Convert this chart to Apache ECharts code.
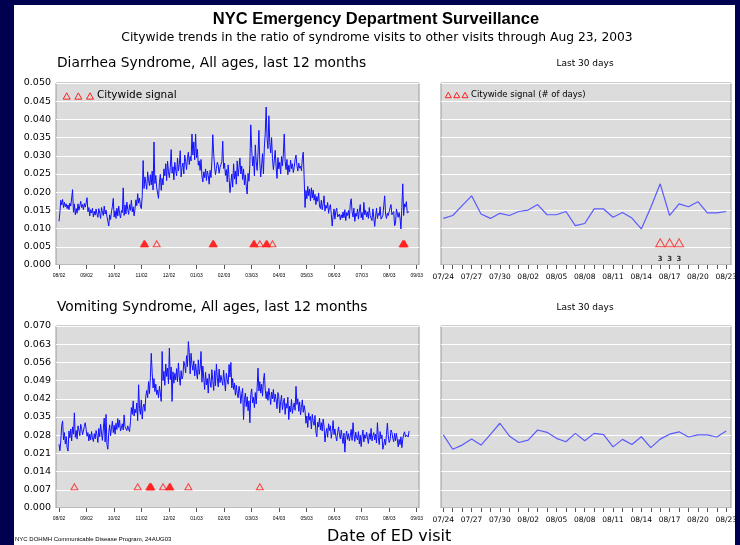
<!DOCTYPE html>
<html>
<head>
<meta charset="utf-8">
<script src="https://cdn.jsdelivr.net/npm/echarts@6/dist/echarts.min.js"></script>
<style>
body { margin: 0; background: #000050; }
#page { position: absolute; left: 14px; top: 5px; width: 721px; height: 540px; background: #fff; }
#chart { position: absolute; left: 0; top: 0; width: 740px; height: 545px; }
</style>
</head>
<body>
<div id="page"></div>
<div id="chart"></div>
<script>
// month tick labels of the 12 month panels (one tick every 365/12 days from 08/01/2002)
var monthLabels = ['08/02', '09/02', '10/02', '11/02', '12/02', '01/03', '02/03',
  '03/03', '04/03', '05/03', '06/03', '07/03', '08/03', '09/03']

// last 30 days categories
var recentDays = ['07/24', '07/25', '07/26', '07/27', '07/28', '07/29', '07/30', '07/31',
  '08/01', '08/02', '08/03', '08/04', '08/05', '08/06', '08/07', '08/08', '08/09', '08/10',
  '08/11', '08/12', '08/13', '08/14', '08/15', '08/16', '08/17', '08/18', '08/19', '08/20',
  '08/21', '08/22', '08/23']

// diarrhea ratio, days 0..356 (08/01/2002 .. 07/23/2003)
var diarrheaEarly = [
  .0120, .0145, .0178, .0165, .0180, .0158, .0172, .0160, .0168, .0155,
  .0165, .0152, .0170, .0162, .0184, .0207, .0145, .0168, .0138, .0155,
  .0142, .0168, .0150, .0162, .0175, .0158, .0166, .0152, .0169, .0159,
  .0170, .0185, .0146, .0158, .0135, .0152, .0143, .0156, .0132, .0148,
  .0137, .0154, .0140, .0131, .0155, .0142, .0128, .0158, .0145, .0136,
  .0162, .0140, .0151, .0134, .0120, .0107, .0138, .0125, .0146, .0160,
  .0183, .0132, .0149, .0128, .0156, .0135, .0162, .0141, .0129, .0150,
  .0144, .0212, .0136, .0165, .0140, .0173, .0152, .0139, .0166, .0150,
  .0178, .0146, .0160, .0135, .0154, .0179, .0163, .0196, .0170, .0184,
  .0162, .0155, .0190, .0287, .0210, .0242, .0225, .0208, .0256, .0234,
  .0218, .0248, .0220, .0258, .0206, .0338, .0224, .0246, .0212, .0198,
  .0183, .0226, .0249, .0205, .0238, .0220, .0264, .0245, .0278, .0232,
  .0285, .0256, .0240, .0268, .0317, .0252, .0270, .0234, .0282, .0260,
  .0245, .0294, .0258, .0276, .0314, .0242, .0268, .0280, .0250, .0302,
  .0284, .0262, .0295, .0310, .0276, .0298, .0286, .0360, .0302, .0338,
  .0289, .0360, .0295, .0318, .0274, .0286, .0260, .0290, .0245, .0228,
  .0256, .0240, .0264, .0232, .0258, .0246, .0222, .0260, .0240, .0285,
  .0358, .0305, .0270, .0248, .0265, .0282, .0274, .0252, .0268, .0276,
  .0284, .0340, .0265, .0280, .0246, .0262, .0228, .0275, .0240, .0199,
  .0225, .0250, .0214, .0278, .0236, .0258, .0222, .0286, .0244, .0268,
  .0294, .0250, .0272, .0235, .0264, .0220, .0248, .0216, .0195, .0252,
  .0230, .0276, .0385, .0320, .0272, .0298, .0245, .0330, .0284, .0260,
  .0305, .0370, .0280, .0242, .0275, .0306, .0250, .0324, .0362, .0434,
  .0348, .0320, .0410, .0336, .0308, .0350, .0292, .0262, .0288, .0315,
  .0270, .0238, .0295, .0264, .0282, .0250, .0298, .0272, .0305, .0360,
  .0285, .0262, .0290, .0248, .0274, .0256, .0288, .0265, .0278, .0254,
  .0268, .0290, .0302, .0274, .0258, .0280, .0266, .0272, .0259, .0292,
  .0310, .0240, .0158, .0205, .0182, .0216, .0190, .0208, .0176, .0212,
  .0184, .0206, .0178, .0194, .0166, .0188, .0175, .0198, .0162, .0155,
  .0178, .0152, .0168, .0190, .0148, .0164, .0156, .0172, .0142, .0158,
  .0166, .0140, .0107, .0135, .0154, .0126, .0148, .0156, .0132, .0128,
  .0140, .0124, .0138, .0129, .0146, .0130, .0152, .0122, .0144, .0136,
  .0150, .0128, .0168, .0182, .0146, .0132, .0156, .0120, .0142, .0134,
  .0154, .0126, .0148, .0166, .0130, .0144, .0124, .0172, .0138, .0150,
  .0132, .0146, .0128, .0158, .0136, .0140, .0122, .0154, .0130, .0106,
  .0134, .0156, .0128, .0142, .0136, .0160, .0126
]
// diarrhea ratio, last 30 days (07/24 .. 08/23)
var diarrheaRecent = [.0128, .0136, .0163, .0190, .0140, .0128, .0142, .0136, .0147, .0151,
  .0166, .0138, .0138, .0147, .0108, .0114, .0154, .0154, .0131, .0144, .0129, .0099,
  .0158, .0223, .0136, .0168, .0160, .0174, .0143, .0143, .0147]

var vomitingEarly = [
  .0245, .0220, .0258, .0318, .0335, .0262, .0290, .0246, .0275, .0232,
  .0219, .0296, .0270, .0304, .0258, .0312, .0284, .0366, .0272, .0298,
  .0265, .0316, .0300, .0278, .0322, .0306, .0282, .0296, .0314, .0328,
  .0302, .0276, .0290, .0258, .0284, .0262, .0294, .0270, .0256, .0286,
  .0266, .0298, .0280, .0252, .0306, .0274, .0322, .0288, .0260, .0304,
  .0346, .0254, .0360, .0244, .0226, .0290, .0320, .0278, .0306, .0334,
  .0290, .0318, .0284, .0326, .0302, .0344, .0310, .0338, .0296, .0308,
  .0324, .0300, .0358, .0312, .0306, .0298, .0316, .0302, .0294, .0332,
  .0386, .0360, .0412, .0354, .0380, .0366, .0404, .0336, .0474, .0382,
  .0360, .0416, .0342, .0388, .0400, .0372, .0430, .0452, .0424, .0486,
  .0440, .0502, .0595, .0520, .0462, .0498, .0448, .0476, .0436, .0454,
  .0424, .0468, .0442, .0410, .0602, .0490, .0526, .0472, .0554, .0506,
  .0538, .0478, .0615, .0494, .0542, .0410, .0524, .0480, .0518, .0492,
  .0536, .0486, .0558, .0504, .0472, .0528, .0496, .0510, .0564, .0548,
  .0520, .0586, .0544, .0640, .0598, .0516, .0595, .0552, .0530, .0566,
  .0508, .0554, .0522, .0496, .0570, .0514, .0538, .0602, .0484, .0546,
  .0500, .0456, .0522, .0474, .0498, .0442, .0516, .0486, .0464, .0532,
  .0490, .0452, .0528, .0470, .0554, .0502, .0466, .0534, .0482, .0510,
  .0506, .0472, .0530, .0488, .0450, .0518, .0494, .0476, .0552, .0504,
  .0560, .0462, .0498, .0456, .0480, .0434, .0472, .0440, .0424, .0468,
  .0446, .0402, .0438, .0460, .0340, .0416, .0442, .0390, .0428, .0374,
  .0412, .0328, .0436, .0458, .0404, .0426, .0386, .0444, .0400, .0462,
  .0538, .0450, .0486, .0442, .0476, .0430, .0490, .0518, .0454, .0420,
  .0448, .0414, .0460, .0432, .0398, .0446, .0420, .0456, .0408, .0438,
  .0416, .0382, .0444, .0428, .0366, .0410, .0434, .0378, .0406, .0422,
  .0360, .0402, .0384, .0426, .0340, .0392, .0370, .0418, .0364, .0388,
  .0404, .0376, .0468, .0398, .0420, .0372, .0408, .0358, .0386, .0416,
  .0368, .0394, .0372, .0326, .0354, .0310, .0366, .0338, .0352, .0304,
  .0360, .0332, .0318, .0356, .0292, .0274, .0330, .0312, .0346, .0300,
  .0328, .0296, .0342, .0314, .0254, .0288, .0306, .0272, .0324, .0298,
  .0316, .0268, .0294, .0336, .0282, .0304, .0276, .0258, .0290, .0312,
  .0284, .0266, .0300, .0272, .0248, .0288, .0215, .0274, .0296, .0264,
  .0286, .0258, .0278, .0302, .0260, .0328, .0284, .0256, .0292, .0270,
  .0262, .0294, .0246, .0280, .0236, .0276, .0300, .0254, .0282, .0268,
  .0292, .0270, .0248, .0286, .0264, .0306, .0258, .0278, .0290, .0262,
  .0284, .0250, .0328, .0272, .0244, .0294, .0266
]
var vomitingRecent = [.0281, .0226, .0242, .0265, .0242, .0283, .0326, .0277, .0252, .0261,
  .0300, .0291, .0268, .0255, .0287, .0259, .0287, .0282, .0235, .0264, .0244, .0274,
  .0232, .0265, .0284, .0293, .0273, .0281, .0281, .0273, .0296]

// days (from 08/01/2002) with a citywide signal
var diarrheaSignalDays = [94, 95, 108, 170, 171, 215, 216, 222, 229, 230, 236, 380, 381, 382]
var vomitingSignalDays = [17, 87, 100, 101, 102, 115, 122, 123, 143, 222]
// last 30 days signals and their # of days
var diarrheaRecentSignals = ['08/16', '08/17', '08/18']
var diarrheaRecentCounts = ['3', '3', '3']

var MONTH = 365 / 12
var diarrheaYear = diarrheaEarly.concat(diarrheaRecent)
var vomitingYear = vomitingEarly.concat(vomitingRecent)

var chart = echarts.init(document.getElementById('chart'), null, {renderer: 'canvas'})

var FONT = 'DejaVu Sans'
var BG = '#dcdcdc'
var LINE = '#1010ff'
var LINE_30 = '#5a5aff'
var RED = '#ff2020'

function yearPoints(arr) {
  return arr.map(function (v, i) { return [i, v] })
}
function signalPoints(days, level) {
  return days.map(function (d) {
    var filled = days.indexOf(d - 1) >= 0 || days.indexOf(d + 1) >= 0
    return {value: [d, level], itemStyle: {color: filled ? RED : 'rgba(0,0,0,0)'}}
  })
}

// panel geometry
var TOP1 = 83, TOP2 = 326, H = 182
var yMaxTop = 0.05, yStepTop = 0.005
var yMaxBot = 0.07, yStepBot = 0.007

function frameGrid(left, top, width) {
  return {left: left, top: top, width: width, height: H, show: true,
    backgroundColor: BG, borderColor: '#9a9a9a', borderWidth: 1}
}
function dataGrid(left, top, width) {
  return {left: left, top: top, width: width, height: H, show: false}
}

var grids = [
  frameGrid(56, TOP1, 363), dataGrid(59, TOP1, 357.7),
  frameGrid(441, TOP1, 290), dataGrid(443.3, TOP1, 285.4),
  frameGrid(56, TOP2, 363), dataGrid(59, TOP2, 357.7),
  frameGrid(441, TOP2, 290), dataGrid(443.3, TOP2, 285.4)
]

var hiddenX = {type: 'value', show: false, min: 0, max: 1}
function yearX(gi) {
  return {
    type: 'value', gridIndex: gi, min: 0, max: MONTH * 13, interval: MONTH,
    axisLine: {show: false},
    axisTick: {show: true, length: 4, lineStyle: {color: '#555'}},
    splitLine: {show: false},
    axisLabel: {
      fontSize: 5, fontFamily: 'Liberation Sans', color: '#000', margin: 8,
      formatter: function (v) { return monthLabels[Math.round(v / MONTH)] || '' }
    }
  }
}
function recentX(gi) {
  return {
    type: 'category', gridIndex: gi, data: recentDays, boundaryGap: false,
    axisLine: {show: false},
    axisTick: {show: true, length: 4, interval: 0, lineStyle: {color: '#555'}},
    axisLabel: {interval: 2, fontSize: 7.5, fontFamily: FONT, color: '#000', margin: 8}
  }
}
function frameY(gi, max, step, labels) {
  return {
    type: 'value', gridIndex: gi, min: 0, max: max, interval: step,
    axisLine: {show: false}, axisTick: {show: false},
    splitLine: {show: true, lineStyle: {color: '#fff', width: 1}},
    axisLabel: {
      show: labels, fontSize: 9.5, fontFamily: FONT, color: '#000', margin: 5,
      formatter: function (v) { return v.toFixed(3) }
    }
  }
}
function dataY(gi, max) {
  return {type: 'value', gridIndex: gi, min: 0, max: max, show: false, splitLine: {show: false}}
}

var xAxes = [
  Object.assign({gridIndex: 0}, hiddenX), yearX(1),
  Object.assign({gridIndex: 2}, hiddenX), recentX(3),
  Object.assign({gridIndex: 4}, hiddenX), yearX(5),
  Object.assign({gridIndex: 6}, hiddenX), recentX(7)
]
var yAxes = [
  frameY(0, yMaxTop, yStepTop, true), dataY(1, yMaxTop),
  frameY(2, yMaxTop, yStepTop, false), dataY(3, yMaxTop),
  frameY(4, yMaxBot, yStepBot, true), dataY(5, yMaxBot),
  frameY(6, yMaxBot, yStepBot, false), dataY(7, yMaxBot)
]

function tri(x, y, s) {
  return {type: 'polygon', shape: {points: [[x - s / 2, y + s * 0.45], [x + s / 2, y + s * 0.45], [x, y - s * 0.45]]},
    style: {fill: 'none', stroke: RED, lineWidth: 1}}
}

var option = {
  animation: false,
  title: [
    {text: 'NYC Emergency Department Surveillance', left: 371, top: 6, textAlign: 'center',
      textStyle: {fontFamily: 'Liberation Sans Narrow, Liberation Sans', fontWeight: 'bold', fontSize: 16.5, color: '#000'}},
    {text: 'Citywide trends in the ratio of syndrome visits to other visits through Aug 23, 2003',
      left: 372, top: 27, textAlign: 'center',
      textStyle: {fontFamily: FONT, fontWeight: 'normal', fontSize: 12.3, color: '#000'}},
    {text: 'Diarrhea Syndrome, All ages, last 12 months', left: 52, top: 51,
      textStyle: {fontFamily: FONT, fontWeight: 'normal', fontSize: 13.8, color: '#000'}},
    {text: 'Last 30 days', left: 580, top: 54, textAlign: 'center',
      textStyle: {fontFamily: FONT, fontWeight: 'normal', fontSize: 9, color: '#000'}},
    {text: 'Vomiting Syndrome, All ages, last 12 months', left: 52, top: 295,
      textStyle: {fontFamily: FONT, fontWeight: 'normal', fontSize: 13.8, color: '#000'}},
    {text: 'Last 30 days', left: 580, top: 298, textAlign: 'center',
      textStyle: {fontFamily: FONT, fontWeight: 'normal', fontSize: 9, color: '#000'}},
    {text: 'Date of ED visit', left: 322, top: 524,
      textStyle: {fontFamily: FONT, fontWeight: 'normal', fontSize: 16, color: '#000'}},
    {text: 'NYC DOHMH Communicable Disease Program, 24AUG03', left: 10, top: 531,
      textStyle: {fontFamily: 'Liberation Sans', fontWeight: 'normal', fontSize: 6, color: '#000'}}
  ],
  graphic: [
    tri(66.7, 96, 7), tri(78.3, 96, 7), tri(90, 96, 7),
    {type: 'text', left: 97, top: 90, style: {text: 'Citywide signal', font: '10.5px DejaVu Sans', fill: '#000'}},
    tri(448.3, 95, 6), tri(456.7, 95, 6), tri(465, 95, 6),
    {type: 'text', left: 471, top: 90, style: {text: 'Citywide signal (# of days)', font: '8.5px DejaVu Sans', fill: '#000'}}
  ],
  grid: grids,
  xAxis: xAxes,
  yAxis: yAxes,
  series: [
    {type: 'line', xAxisIndex: 1, yAxisIndex: 1, data: yearPoints(diarrheaYear), showSymbol: false,
      lineStyle: {color: LINE, width: 1}},
    {type: 'scatter', xAxisIndex: 1, yAxisIndex: 1, data: signalPoints(diarrheaSignalDays, 0.005),
      symbol: 'triangle', symbolSize: [7, 6], symbolOffset: [0, -3],
      itemStyle: {borderColor: RED, borderWidth: 1}},
    {type: 'line', xAxisIndex: 3, yAxisIndex: 3, data: diarrheaRecent, showSymbol: false,
      lineStyle: {color: LINE_30, width: 1.2}},
    {type: 'scatter', xAxisIndex: 3, yAxisIndex: 3,
      data: diarrheaRecentSignals.map(function (d, i) {
        return {value: [d, 0.005], label: {formatter: diarrheaRecentCounts[i]}}
      }),
      symbol: 'triangle', symbolSize: [9, 8], symbolOffset: [0, -4],
      itemStyle: {color: 'rgba(0,0,0,0)', borderColor: RED, borderWidth: 1},
      label: {show: true, position: 'bottom', distance: 8, fontSize: 7, fontWeight: 'bold',
        fontFamily: FONT, color: '#000'}},
    {type: 'line', xAxisIndex: 5, yAxisIndex: 5, data: yearPoints(vomitingYear), showSymbol: false,
      lineStyle: {color: LINE, width: 1}},
    {type: 'scatter', xAxisIndex: 5, yAxisIndex: 5, data: signalPoints(vomitingSignalDays, 0.007),
      symbol: 'triangle', symbolSize: [7, 6], symbolOffset: [0, -3],
      itemStyle: {borderColor: RED, borderWidth: 1}},
    {type: 'line', xAxisIndex: 7, yAxisIndex: 7, data: vomitingRecent, showSymbol: false,
      lineStyle: {color: LINE_30, width: 1.2}}
  ]
}
chart.setOption(option)
</script>
</body>
</html>
